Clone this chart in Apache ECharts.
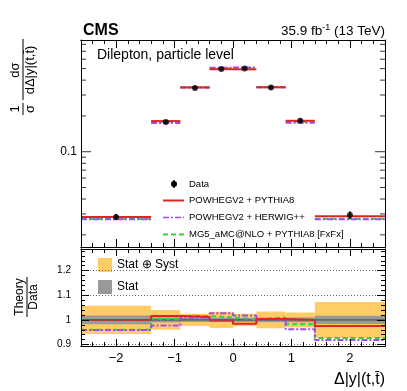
<!DOCTYPE html>
<html>
<head>
<meta charset="UTF-8">
<title>Delta |y| ttbar</title>
<style>
  body, html { width: 100%; height: 100%; margin: 0; padding: 0; background: #fff; }
  #myChart { width: 407px; height: 391px; }
</style>
<script src="https://cdn.jsdelivr.net/npm/echarts@6/dist/echarts.min.js"></script>
</head>
<body>
<div id="myChart"></div>
<script>
// 分箱
let binLo = [-2.6, -1.4, -0.9, -0.4, 0, 0.4, 0.9, 1.4];
let binHi = [-1.4, -0.9, -0.4, 0, 0.4, 0.9, 1.4, 2.6];
let binCenter = [-2, -1.15, -0.65, -0.2, 0.2, 0.65, 1.15, 2];

// 数据 (1/sigma dsigma/d delta|y|)
let dataVal = [0.0283, 0.178, 0.343, 0.495, 0.501, 0.347, 0.182, 0.0294];
let totUnc = [0.057, 0.040, 0.025, 0.033, 0.025, 0.034, 0.030, 0.073];
let statUnc = [0.018, 0.010, 0.008, 0.009, 0.008, 0.009, 0.010, 0.017];

// 理论预测 (上图)
let powPy8 = [0.0283, 0.181, 0.347, 0.494, 0.493, 0.348, 0.182, 0.0287];
let powHw = [0.0271, 0.174, 0.346, 0.508, 0.510, 0.348, 0.175, 0.0270];
let mg5Py8 = [0.0272, 0.179, 0.348, 0.500, 0.502, 0.350, 0.179, 0.0273];

// 理论/数据 (下图)
let ratioPowPy8 = [1.000, 1.016, 1.012, 0.998, 0.984, 1.004, 1.000, 0.975];
let ratioPowHw = [0.959, 0.977, 1.010, 1.027, 1.018, 1.002, 0.962, 0.918];
let ratioMg5 = [0.960, 1.005, 1.016, 1.010, 1.003, 1.010, 0.982, 0.927];

// 刻度
let xMajor = [-2, -1, 0, 1, 2];
let xMinor = [];
for (let i = -13; i <= 13; i++) xMinor.push(i / 5);
let yUpMajor = [0.1];
let yUpMinor = [0.02, 0.03, 0.04, 0.05, 0.06, 0.07, 0.08, 0.09, 0.2, 0.3, 0.4, 0.5, 0.6, 0.7, 0.8];
let yLoMajor = [0.9, 1, 1.1, 1.2];
let yLoMinor = [];
for (let i = 45; i <= 64; i++) yLoMinor.push(i / 50);

let FONT = 'Liberation Sans, Arial, Helvetica, sans-serif';
let RED = '#e02424', VIOLET = '#a04cf2', GREEN = '#2fd62f';
let YELLOW = '#ffcc66', GREY = '#999999';
let PX = 5.2 / 304; // 一个像素对应的 x 数据单位

function fmtNum(v) {
  return v < 0 ? '\u2212' + Math.abs(v) : String(v);
}

function xAx(grid, pos, ticks, len, label) {
  return {
    type: 'value', gridIndex: grid, position: pos, min: -2.6, max: 2.6, z: 10,
    axisLine: { show: true, onZero: false, lineStyle: { color: '#000', width: 1 } },
    axisTick: { show: true, inside: true, length: len, customValues: ticks, lineStyle: { color: '#000', width: 1 } },
    axisLabel: { show: label, customValues: xMajor, margin: 6, color: '#000', fontSize: 13, fontFamily: FONT, formatter: fmtNum },
    splitLine: { show: false }
  };
}

// 对数轴（上图）
function yUp(pos, label) {
  return {
    type: 'log', logBase: 10, gridIndex: 0, position: pos, min: 0.0158, max: 0.87, z: 10,
    axisLine: { show: true, onZero: false, lineStyle: { color: '#000', width: 1 } },
    axisTick: { show: false },
    axisLabel: { show: label, customValues: yUpMajor, margin: 4, color: '#000', fontSize: 12, fontFamily: FONT, formatter: v => '0.1' },
    splitLine: { show: false }
  };
}

function yLo(pos, ticks, len, label, grid) {
  return {
    type: 'value', gridIndex: 1, position: pos, min: 0.894, max: 1.288, z: 10,
    axisLine: { show: true, onZero: false, lineStyle: { color: '#000', width: 1 } },
    axisTick: { show: true, inside: true, length: len, customValues: ticks, lineStyle: { color: '#000', width: 1 } },
    axisLabel: { show: label, customValues: yLoMajor, margin: 10, color: '#000', fontSize: 10, fontFamily: FONT },
    splitLine: { show: grid, lineStyle: { color: '#666', width: 1, type: [1, 2] } }
  };
}

// 对数轴刻度：用散点的细长矩形符号画，左右两侧向内
function logTicks(vals, len) {
  let half = len / 2 * PX;
  let pts = [];
  vals.forEach(v => { pts.push([-2.6 + half, v]); pts.push([2.6 - half, v]); });
  return {
    type: 'scatter', xAxisIndex: 0, yAxisIndex: 0, z: 11, silent: true, clip: false,
    data: pts, symbol: 'rect', symbolSize: [len, 1],
    itemStyle: { color: '#000' }
  };
}

// 上图：每个分箱一条水平线
function binLines(vals, color, dash, z) {
  return {
    type: 'custom', xAxisIndex: 0, yAxisIndex: 0, z: z,
    encode: { x: [0, 1], y: 2 },
    data: vals.map((v, i) => [binLo[i], binHi[i], v]),
    renderItem: (params, api) => {
      let a = api.coord([api.value(0), api.value(2)]);
      let b = api.coord([api.value(1), api.value(2)]);
      return { type: 'line', shape: { x1: a[0], y1: a[1], x2: b[0], y2: b[1] },
        style: { stroke: color, lineWidth: 2, lineDash: dash } };
    }
  };
}

// 下图：不确定度带
function bands(unc, color, z) {
  return {
    type: 'custom', xAxisIndex: 4, yAxisIndex: 2, z: z,
    encode: { x: [0, 1], y: [2, 3] },
    data: unc.map((e, i) => [binLo[i], binHi[i], 1 - e, 1 + e]),
    renderItem: (params, api) => {
      let a = api.coord([api.value(0), api.value(3)]);
      let b = api.coord([api.value(1), api.value(2)]);
      return { type: 'rect', shape: { x: a[0], y: a[1], width: b[0] - a[0], height: b[1] - a[1] },
        style: { fill: color } };
    }
  };
}

// 下图：阶梯线
function steps(vals, color, dash, z) {
  let pts = [];
  vals.forEach((v, i) => { pts.push([binLo[i], v]); pts.push([binHi[i], v]); });
  return {
    type: 'line', xAxisIndex: 4, yAxisIndex: 2, z: z, data: pts, symbol: 'none',
    animation: false, silent: true,
    lineStyle: { color: color, width: 2, type: dash }
  };
}

let myEcharts = echarts.init(document.querySelector('#myChart'));

let option = {
  animation: false,
  backgroundColor: '#fff',
  grid: [
    { left: 81, right: 22, top: 40, height: 207 },
    { left: 81, right: 22, top: 249, height: 97 }
  ],
  xAxis: [
    xAx(0, 'bottom', xMinor, 4, false),
    xAx(0, 'bottom', xMajor, 8, false),
    xAx(0, 'top', xMinor, 4, false),
    xAx(0, 'top', xMajor, 8, false),
    xAx(1, 'bottom', xMinor, 4, false),
    xAx(1, 'bottom', xMajor, 7, true),
    xAx(1, 'top', xMinor, 4, false),
    xAx(1, 'top', xMajor, 7, false)
  ],
  yAxis: [
    yUp('left', true),
    yUp('right', false),
    yLo('left', yLoMinor, 4, false, false),
    yLo('left', yLoMajor, 8, true, true),
    yLo('right', yLoMinor, 4, false, false),
    yLo('right', yLoMajor, 8, false, false)
  ],
  series: [
    logTicks(yUpMinor, 5),
    logTicks(yUpMajor, 10),
    binLines(mg5Py8, GREEN, [5, 3], 3),
    binLines(powHw, VIOLET, [6, 2, 2, 2], 4),
    binLines(powPy8, RED, null, 5),
    {
      type: 'custom', xAxisIndex: 0, yAxisIndex: 0, z: 6,
      encode: { x: 0, y: [1, 2] },
      data: dataVal.map((v, i) => [binCenter[i], v * (1 - totUnc[i]), v * (1 + totUnc[i])]),
      renderItem: (params, api) => {
        let a = api.coord([api.value(0), api.value(1)]);
        let b = api.coord([api.value(0), api.value(2)]);
        return { type: 'line', shape: { x1: a[0], y1: a[1], x2: b[0], y2: b[1] },
          style: { stroke: '#000', lineWidth: 1.5 } };
      }
    },
    {
      type: 'scatter', xAxisIndex: 0, yAxisIndex: 0, z: 7,
      data: dataVal.map((v, i) => [binCenter[i], v]),
      symbol: 'circle', symbolSize: 6, itemStyle: { color: '#000' }
    },
    bands(totUnc, YELLOW, 2),
    bands(statUnc, GREY, 3),
    {
      type: 'line', xAxisIndex: 4, yAxisIndex: 2, z: 4, symbol: 'none', silent: true,
      data: [[-2.6, 1], [2.6, 1]],
      lineStyle: { color: '#444', width: 1 }
    },
    steps(ratioMg5, GREEN, [5, 3], 5),
    steps(ratioPowHw, VIOLET, [6, 2, 2, 2], 6),
    steps(ratioPowPy8, RED, 'solid', 7)
  ],
  graphic: [
    { type: 'text', x: 83, y: 31, style: { text: 'CMS', font: 'bold 16px ' + FONT, fill: '#000', align: 'left', verticalAlign: 'middle' } },
    { type: 'text', x: 385, y: 31, style: {
        text: '{a|35.9 fb}{s|-1}{a| (13 TeV)}', align: 'right', verticalAlign: 'middle', fill: '#000',
        rich: { a: { fontSize: 13.5, fontFamily: FONT, lineHeight: 15 }, s: { fontSize: 9, fontFamily: FONT, verticalAlign: 'top', lineHeight: 15 } } } },
    { type: 'text', x: 97, y: 55, style: { text: 'Dilepton, particle level', font: '14px ' + FONT, fill: '#000', align: 'left', verticalAlign: 'middle' } },

    // 上图图例
    { type: 'line', shape: { x1: 174, y1: 180, x2: 174, y2: 188 }, style: { stroke: '#000', lineWidth: 1.5 } },
    { type: 'circle', shape: { cx: 174, cy: 184, r: 3 }, style: { fill: '#000' } },
    { type: 'line', shape: { x1: 163, y1: 200.5, x2: 184, y2: 200.5 }, style: { stroke: RED, lineWidth: 2 } },
    { type: 'line', shape: { x1: 163, y1: 217.5, x2: 184, y2: 217.5 }, style: { stroke: VIOLET, lineWidth: 1.5, lineDash: [6, 2, 2, 2] } },
    { type: 'line', shape: { x1: 163, y1: 234.5, x2: 184, y2: 234.5 }, style: { stroke: GREEN, lineWidth: 2, lineDash: [5, 3] } },
    { type: 'text', x: 189, y: 184, style: { text: 'Data', font: '9.5px ' + FONT, fill: '#000', verticalAlign: 'middle' } },
    { type: 'text', x: 189, y: 200.5, style: { text: 'POWHEGV2 + PYTHIA8', font: '9.5px ' + FONT, fill: '#000', verticalAlign: 'middle' } },
    { type: 'text', x: 189, y: 217.5, style: { text: 'POWHEGV2 + HERWIG++', font: '9.5px ' + FONT, fill: '#000', verticalAlign: 'middle' } },
    { type: 'text', x: 189, y: 234.5, style: { text: 'MG5_aMC@NLO + PYTHIA8 [FxFx]', font: '9.5px ' + FONT, fill: '#000', verticalAlign: 'middle' } },

    // 下图图例
    { type: 'rect', shape: { x: 98, y: 258, width: 14, height: 14 }, style: { fill: YELLOW } },
    { type: 'text', x: 117, y: 265, style: { text: 'Stat \u2295 Syst', font: '12px ' + FONT, fill: '#000', verticalAlign: 'middle' } },
    { type: 'rect', shape: { x: 98, y: 280, width: 14, height: 14 }, style: { fill: GREY } },
    { type: 'text', x: 117, y: 287, style: { text: 'Stat', font: '12px ' + FONT, fill: '#000', verticalAlign: 'middle' } },

    // 上图 y 轴标题
    {
      type: 'group', x: 23, y: 118, rotation: Math.PI / 2,
      children: [
        { type: 'text', x: 9, y: -1, style: { text: '1', font: '13px ' + FONT, fill: '#000', align: 'center', verticalAlign: 'bottom' } },
        { type: 'line', shape: { x1: 3, y1: 0, x2: 15, y2: 0 }, style: { stroke: '#000', lineWidth: 1 } },
        { type: 'text', x: 9, y: 1, style: { text: '\u03c3', font: '13px ' + FONT, fill: '#000', align: 'center', verticalAlign: 'top' } },
        { type: 'text', x: 48, y: -1, style: { text: 'd\u03c3', font: '13px ' + FONT, fill: '#000', align: 'center', verticalAlign: 'bottom' } },
        { type: 'line', shape: { x1: 18, y1: 0, x2: 79, y2: 0 }, style: { stroke: '#000', lineWidth: 1 } },
        { type: 'text', x: 48, y: 1, style: { text: 'd\u0394|y|(t,t\u0304)', font: '13px ' + FONT, fill: '#000', align: 'center', verticalAlign: 'top' } }
      ]
    },
    // 下图 y 轴标题
    {
      type: 'group', x: 27, y: 297, rotation: Math.PI / 2,
      children: [
        { type: 'text', x: 0, y: -1, style: { text: 'Theory', font: '12px ' + FONT, fill: '#000', align: 'center', verticalAlign: 'bottom' } },
        { type: 'line', shape: { x1: -20, y1: 0, x2: 20, y2: 0 }, style: { stroke: '#000', lineWidth: 1 } },
        { type: 'text', x: 0, y: 1, style: { text: 'Data', font: '12px ' + FONT, fill: '#000', align: 'center', verticalAlign: 'top' } }
      ]
    },
    // x 轴标题
    { type: 'text', x: 385, y: 380, style: { text: '\u0394|y|(t,t\u0304)', font: '16px ' + FONT, fill: '#000', align: 'right', verticalAlign: 'middle' } }
  ]
};

myEcharts.setOption(option, true);
</script>
</body>
</html>
